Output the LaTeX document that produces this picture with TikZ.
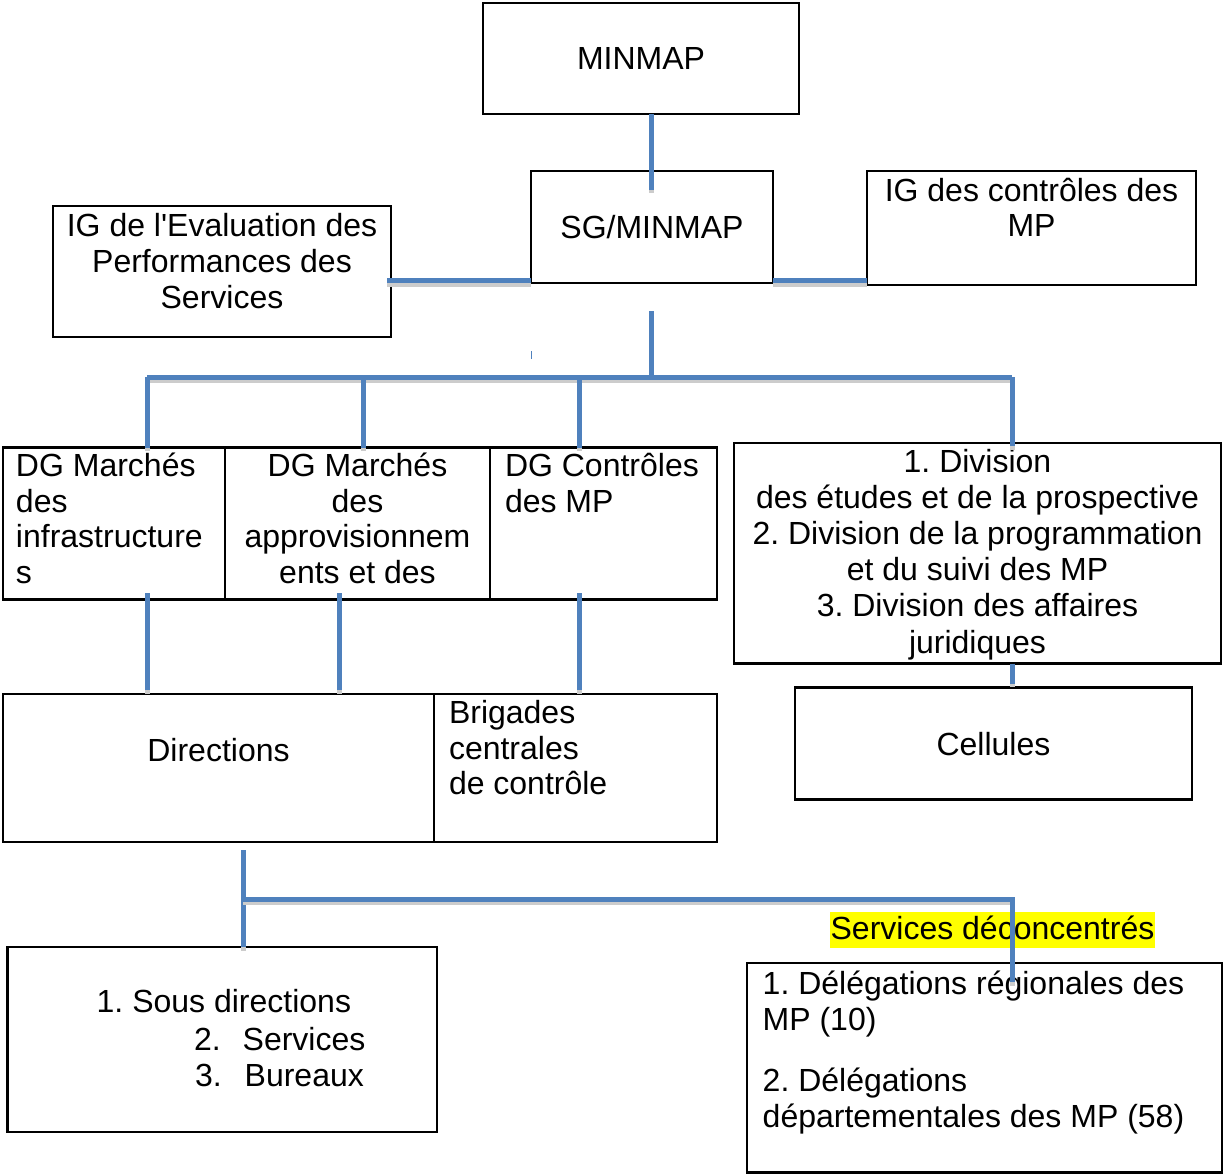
\documentclass[tikz,border=0pt]{standalone}
\usepackage{fontspec}
\setmainfont{Liberation Sans}[Ligatures={TeXOff}]
\usetikzlibrary{calc}
\definecolor{connblue}{RGB}{79,129,189}
\definecolor{shadowgray}{RGB}{204,204,204}
\definecolor{hlyellow}{RGB}{255,255,0}
\newcommand\SL{\strut}
\frenchspacing
\begin{document}
\frenchspacing
\begin{tikzpicture}[x=1pt,y=-1pt,
  box/.style={draw=black,line width=2.2pt,fill=white,inner sep=0pt,outer sep=0pt,anchor=north west},
  txt/.style={inner sep=0pt,outer sep=0pt,font=\fontsize{32}{35.8}\selectfont},
  captxt/.style={font=\fontsize{32}{35.8}\selectfont,text height=23pt,text depth=0pt},
  conn/.style={draw=connblue,line width=5pt,preaction={draw=shadowgray,line width=5pt,transform canvas={yshift=-3.5pt}}},
  tick/.style={draw=connblue,line width=1.5pt}
]
\useasboundingbox (0,0) rectangle (1223,1174);

% boxes
\node[box,captxt,minimum width=316pt,minimum height=111pt] (minmap) at (483,3) {MINMAP};
\node[box,captxt,minimum width=242pt,minimum height=112pt] (sg) at (531,171) {SG/MINMAP};
\node[box,minimum width=338pt,minimum height=131pt] (igl) at (53,206) {};
\node[box,minimum width=329pt,minimum height=114pt] (igr) at (867,171) {};
\node[box,minimum width=222pt,minimum height=152pt] (dg1) at (3,447.5) {};
\node[box,minimum width=265pt,minimum height=152pt] (dg2) at (225,447.5) {};
\node[box,minimum width=227pt,minimum height=152pt] (dg3) at (490,447.5) {};
\node[box,minimum width=487pt,minimum height=220.5pt] (div) at (734,443) {};
\node[box,minimum width=431pt,minimum height=148pt] (dir) at (3,694) {};
\node[box,minimum width=283pt,minimum height=148pt] (brig) at (434,694) {};
\node[box,captxt,minimum width=397pt,minimum height=112pt] (cell) at (795,687.5) {Cellules};
\node[box,minimum width=429.5pt,minimum height=185pt] (sous) at (7.5,947) {};
\node[box,minimum width=475pt,minimum height=209.5pt] (deleg) at (747,963) {};

% texts
\node[txt,align=center,anchor=north,font=\fontsize{32}{36.2}\selectfont] (iglt) at (222,210.7)
  {\SL IG de l'Evaluation des\\\SL Performances des\\\SL Services};
\node[txt,align=center,anchor=north,font=\fontsize{32}{35}\selectfont] (igrt) at (1031.5,176.8)
  {\SL IG des contrôles des\\\SL MP};
\node[txt,align=left,anchor=north west,font=\fontsize{32}{35.4}\selectfont] (dg1t) at (16,452.2)
  {\SL DG Marchés\\\SL des\\\SL infrastructure\\\SL s};
\node[txt,align=center,anchor=north,font=\fontsize{32}{35.4}\selectfont] (dg2t) at (357.5,452.2)
  {\SL DG Marchés\\\SL des\\\SL approvisionnem\\\SL ents et des};
\node[txt,align=left,anchor=north west,font=\fontsize{32}{35.4}\selectfont] (dg3t) at (505,452.2)
  {\SL DG Contrôles\\\SL des MP};
\node[txt,align=center,anchor=north,font=\fontsize{32}{36.2}\selectfont] (divt) at (977.5,446.7)
  {\SL 1. Division\\\SL des études et de la prospective\\\SL 2. Division de la programmation\\\SL et du suivi des MP\\\SL 3. Division des affaires\\\SL juridiques};
\node[txt,anchor=base] (dirt) at (218.5,761) {Directions};
\node[txt,align=left,anchor=north west,font=\fontsize{32}{35.6}\selectfont] (brigt) at (449,698.6)
  {\SL Brigades\\\SL centrales\\\SL de contrôle};
\node[txt,anchor=base west] (sous1) at (96.7,1012.7) {1. Sous directions};
\node[txt,anchor=base west] (sous2) at (194,1050) {2.\hspace{22pt}Services};
\node[txt,anchor=base west] (sous3) at (195,1086) {3.\hspace{23pt}Bureaux};
\node[txt,align=left,anchor=north west,font=\fontsize{32}{36}\selectfont] (del1) at (762.7,968.8)
  {\SL 1. Délégations régionales des\\\SL MP (10)};
\node[txt,align=left,anchor=north west,font=\fontsize{32}{36}\selectfont] (del2) at (762.7,1066.5)
  {\SL 2. Délégations\\\SL départementales des MP (58)};
\node[fill=hlyellow,inner xsep=0.7pt,inner ysep=0pt,outer sep=0pt,text height=28.3pt,text depth=8.4pt,
  font=\fontsize{32}{35.8}\selectfont,anchor=base] (serv) at (992.5,939.8) {Services déconcentrés};

% bus coordinates
\coordinate (b0) at (651,377);
\coordinate (t1) at (147,377);
\coordinate (t2) at (363,377);
\coordinate (t3) at (579,377);
\coordinate (t4) at (1012,377);
\coordinate (l1) at (147,593);
\coordinate (l2) at (339,593);
\coordinate (l3) at (579,593);
\coordinate (m0) at (243,850);
\coordinate (m1) at (243,899);
\coordinate (k0) at (531.5,351);
\coordinate (k1) at (531.5,359);

% connectors
\draw[conn] (minmap.south -| b0) -- ($(sg.north -| b0)+(0,19)$);
\draw[conn] ($(sg.south west)+(0,-2)$) -- ($(igl.east |- sg.south west)+(-4,-2)$);
\draw[conn] ($(sg.south east)+(0,-2)$) -- ($(igr.west |- sg.south east)+(0,-2)$);
\draw[conn] ($(sg.south -| b0)+(0,28)$) -- (b0);
\draw[conn] (t1) -- (t4);
\draw[conn] (t1) -- (t1 |- dg1.north);
\draw[conn] (t2) -- (t2 |- dg2.north);
\draw[conn] (t3) -- (t3 |- dg3.north);
\draw[conn] (t4) -- ($(t4 |- div.north)+(0,3)$);
\draw[conn] (l1) -- ($(l1 |- dir.north)+(0,-4)$);
\draw[conn] (l2) -- ($(l2 |- dir.north)+(0,-4)$);
\draw[conn] (l3) -- ($(l3 |- brig.north)+(0,-4)$);
\draw[conn] (t4 |- div.south) -- ($(t4 |- cell.north)+(0,-4)$);
\draw[conn] (m0) -- (m0 |- sous.north);
\draw[conn] (m1) -- (t4 |- m1) -- ($(t4 |- deleg.north)+(0,19)$);
\draw[tick] (k0) -- (k1);
\end{tikzpicture}
\end{document}
